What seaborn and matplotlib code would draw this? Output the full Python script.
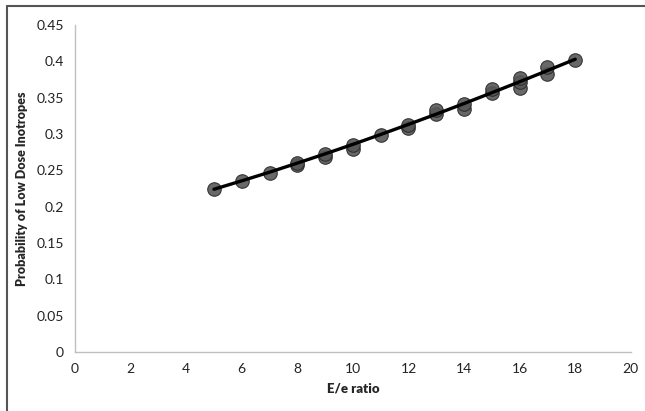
import matplotlib
matplotlib.use("Agg")
import matplotlib.pyplot as plt
import seaborn as sns
import pandas as pd
from matplotlib.lines import Line2D

# Observed points
pts_x = [5, 6, 7, 8, 8, 9, 9, 10, 10, 11, 12, 12, 13, 13, 14, 14, 15, 15, 16, 16, 16, 17, 17, 18]
pts_y = [0.224, 0.235, 0.247, 0.257, 0.260, 0.268, 0.272, 0.280, 0.285, 0.299, 0.308, 0.313,
         0.327, 0.333, 0.335, 0.342, 0.356, 0.362, 0.364, 0.372, 0.377, 0.383, 0.392, 0.402]

# Fitted curve
fit_x = [5, 6, 7, 8, 9, 10, 11, 12, 13, 14, 15, 16, 17, 18]
fit_y = [0.224, 0.2356, 0.2475, 0.260, 0.2727, 0.2858, 0.2994, 0.3133, 0.3274, 0.3420,
         0.3569, 0.3720, 0.3874, 0.403]

x_ticks = [0, 2, 4, 6, 8, 10, 12, 14, 16, 18, 20]
y_ticks = [0, 0.05, 0.1, 0.15, 0.2, 0.25, 0.3, 0.35, 0.4, 0.45]
y_tick_labels = ["0", "0.05", "0.1", "0.15", "0.2", "0.25", "0.3", "0.35", "0.4", "0.45"]

sns.set_style("white")
plt.rcParams['font.family'] = ['Lato', 'DejaVu Sans']

fig = plt.figure(figsize=(6.45, 4.11), dpi=100)
ax = fig.add_axes([0.1163, 0.1436, 0.8617, 0.7954])

df_pts = pd.DataFrame({"x": pts_x, "y": pts_y})
df_fit = pd.DataFrame({"x": fit_x, "y": fit_y})

sns.scatterplot(data=df_pts, x="x", y="y", ax=ax, s=95, color="#575757",
                edgecolor="#2a2a2a", linewidth=0.8, alpha=0.9, zorder=2)
sns.lineplot(data=df_fit, x="x", y="y", ax=ax, color="black", linewidth=2.4, zorder=3)

ax.set_xlim(0, 20)
ax.set_ylim(0, 0.45)
ax.set_xticks(x_ticks)
ax.set_xticklabels([str(t) for t in x_ticks])
ax.set_yticks(y_ticks)
ax.set_yticklabels(y_tick_labels)

for s in ["top", "right"]:
    ax.spines[s].set_visible(False)
for s in ["left", "bottom"]:
    ax.spines[s].set_color("#bfbfbf")
    ax.spines[s].set_linewidth(1.0)

ax.tick_params(axis="both", which="both", direction="out", length=4, width=1,
               color="#bfbfbf", labelsize=10, labelcolor="#222222", pad=4)

ax.set_xlabel("E/e ratio", fontsize=9.5, fontweight="heavy", labelpad=5)
ax.set_ylabel("Probability of Low Dose Inotropes", fontsize=9, fontweight="heavy", labelpad=6)

# Figure border (left and top)
fig.add_artist(Line2D([7/645, 7/645], [0, 1 - 6/411], transform=fig.transFigure,
                      color="#555555", linewidth=1.5))
fig.add_artist(Line2D([7/645, 1], [1 - 6/411, 1 - 6/411], transform=fig.transFigure,
                      color="#555555", linewidth=1.5))

fig.savefig("out.png", dpi=100)
